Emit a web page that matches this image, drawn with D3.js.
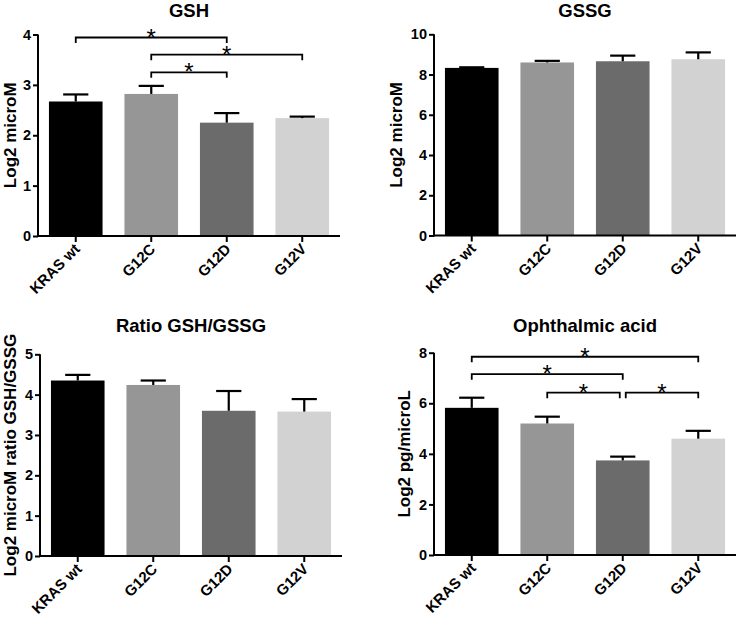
<!DOCTYPE html>
<html>
<head>
<meta charset="utf-8">
<script src="https://cdn.jsdelivr.net/npm/d3@7"></script>
<style>
  html, body { margin: 0; padding: 0; background: #fff; }
  svg { display: block; font-family: "Liberation Sans", Arial, sans-serif; }
</style>
</head>
<body>
<svg id="chart" width="739" height="619"></svg>
<script>
// ---- data ----
const categories = ["KRAS wt", "G12C", "G12D", "G12V"];
const barColors = ["#000000", "#969696", "#6b6b6b", "#d2d2d2"];

const gshMean = [2.67, 2.82, 2.25, 2.34];
const gshErr  = [0.14, 0.16, 0.19, 0.03];
const gshTicks = [0, 1, 2, 3, 4];
const gshSig = [ {a: 0, b: 2, y: 3.94}, {a: 1, b: 3, y: 3.60}, {a: 1, b: 2, y: 3.25} ];

const gssgMean = [8.33, 8.60, 8.66, 8.76];
const gssgErr  = [0.03, 0.08, 0.28, 0.34];
const gssgTicks = [0, 2, 4, 6, 8, 10];
const gssgSig = [];

const ratioMean = [4.35, 4.24, 3.60, 3.58];
const ratioErr  = [0.14, 0.11, 0.49, 0.31];
const ratioTicks = [0, 1, 2, 3, 4, 5];
const ratioSig = [];

const ophMean = [5.82, 5.20, 3.74, 4.60];
const ophErr  = [0.40, 0.27, 0.15, 0.31];
const ophTicks = [0, 2, 4, 6, 8];
const ophSig = [ {a: 0, b: 3, y: 7.84}, {a: 0, b: 2, y: 7.15}, {a: 1, b: 2, y: 6.42, db: -3}, {a: 2, b: 3, y: 6.42, da: 3} ];

const panels = [
  { title: "GSH", ylabel: "Log2 microM", mean: gshMean, err: gshErr, ticks: gshTicks, sig: gshSig,
    x0: 38, x1: 340, yTop: 34.5, yBot: 236, titleY: 16.7, labelX: 15.5 },
  { title: "GSSG", ylabel: "Log2 microM", mean: gssgMean, err: gssgErr, ticks: gssgTicks, sig: gssgSig,
    x0: 434, x1: 736, yTop: 34.3, yBot: 235.5, titleY: 16.7, labelX: 402 },
  { title: "Ratio GSH/GSSG", ylabel: "Log2 microM ratio GSH/GSSG", mean: ratioMean, err: ratioErr, ticks: ratioTicks, sig: ratioSig,
    x0: 40, x1: 342, yTop: 354.3, yBot: 556, titleY: 331.7, labelX: 15.5 },
  { title: "Ophthalmic acid", ylabel: "Log2 pg/microL", mean: ophMean, err: ophErr, ticks: ophTicks, sig: ophSig,
    x0: 434, x1: 736, yTop: 352.7, yBot: 555, titleY: 331.7, labelX: 410 }
];

const svg = d3.select("#chart");
const FONT = "'Liberation Sans', Arial, sans-serif";

panels.forEach(p => {
  const g = svg.append("g");
  const x = d3.scaleBand().domain(categories).range([p.x0, p.x1]).paddingInner(0.29).paddingOuter(0.145);
  const ymax = p.ticks[p.ticks.length - 1];
  const y = d3.scaleLinear().domain([0, ymax]).range([p.yBot, p.yTop]);

  // bars
  g.selectAll("rect.bar").data(categories).enter().append("rect")
    .attr("x", d => x(d))
    .attr("y", (d, i) => y(p.mean[i]))
    .attr("width", x.bandwidth())
    .attr("height", (d, i) => y(0) - y(p.mean[i]))
    .attr("fill", (d, i) => barColors[i]);

  // error bars (upper only)
  const capW = x.bandwidth() * 0.47;
  categories.forEach((c, i) => {
    const cx = x(c) + x.bandwidth() / 2;
    const yt = y(p.mean[i] + p.err[i]);
    g.append("line").attr("x1", cx).attr("x2", cx).attr("y1", y(p.mean[i])).attr("y2", yt)
      .attr("stroke", "#000").attr("stroke-width", 2.2);
    g.append("line").attr("x1", cx - capW / 2).attr("x2", cx + capW / 2).attr("y1", yt).attr("y2", yt)
      .attr("stroke", "#000").attr("stroke-width", 2.2);
  });

  // y axis
  const yAxis = d3.axisLeft(y).tickValues(p.ticks).tickFormat(d3.format("d")).tickSize(5).tickSizeOuter(0).tickPadding(2);
  const ya = g.append("g").attr("transform", `translate(${p.x0},0)`).call(yAxis);
  ya.select(".domain").attr("stroke", "#000").attr("stroke-width", 2).attr("d", `M0,${p.yBot + 1}V${p.yTop}`);
  ya.selectAll(".tick line").attr("stroke", "#000").attr("stroke-width", 2);
  ya.selectAll(".tick text").attr("font-size", 14.5).attr("font-weight", "bold").attr("fill", "#000")
    .attr("font-family", FONT);

  // x axis
  const xAxis = d3.axisBottom(x).tickSize(6).tickSizeOuter(0);
  const xa = g.append("g").attr("transform", `translate(0,${p.yBot})`).call(xAxis);
  xa.select(".domain").attr("stroke", "#000").attr("stroke-width", 2).attr("d", `M${p.x0 - 1},0H${p.x1}`);
  xa.selectAll(".tick line").attr("stroke", "#000").attr("stroke-width", 2);
  xa.selectAll(".tick text")
    .attr("font-size", 15).attr("font-weight", "bold").attr("fill", "#000")
    .attr("font-family", FONT)
    .attr("text-anchor", "end").attr("dy", null).attr("y", null)
    .attr("transform", "translate(5,14) rotate(-45)");

  // title
  g.append("text").attr("x", (p.x0 + p.x1) / 2).attr("y", p.titleY)
    .attr("text-anchor", "middle").attr("font-size", 18.5).attr("font-weight", "bold").text(p.title);

  // y label
  g.append("text")
    .attr("transform", `translate(${p.labelX},${(p.yTop + p.yBot) / 2}) rotate(-90)`)
    .attr("text-anchor", "middle").attr("font-size", 17).attr("font-weight", "bold").text(p.ylabel);

  // significance brackets
  p.sig.forEach(s => {
    const xa_ = x(categories[s.a]) + x.bandwidth() / 2 + (s.da || 0);
    const xb_ = x(categories[s.b]) + x.bandwidth() / 2 + (s.db || 0);
    const yy = y(s.y);
    g.append("path").attr("d", `M${xa_},${yy + 5.5}V${yy}H${xb_}V${yy + 5.5}`)
      .attr("fill", "none").attr("stroke", "#000").attr("stroke-width", 1.8);
    g.append("text").attr("x", (xa_ + xb_) / 2).attr("y", yy + 8)
      .attr("text-anchor", "middle").attr("font-size", 24).text("*");
  });
});
</script>
</body>
</html>
